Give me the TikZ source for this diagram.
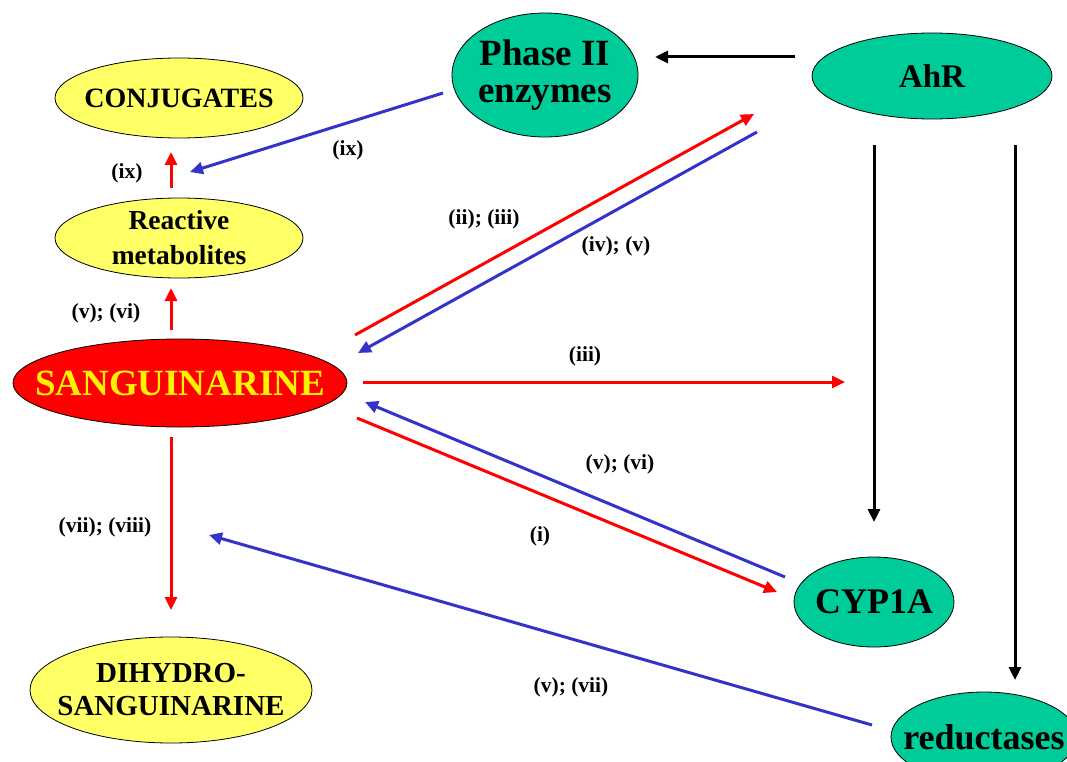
\documentclass[tikz,border=0pt]{standalone}
\usepackage{fontspec}
\setmainfont{Liberation Serif}
\usetikzlibrary{shapes.geometric,arrows.meta}
\definecolor{teal1}{RGB}{0,204,153}
\definecolor{yel1}{RGB}{255,255,102}
\definecolor{red1}{RGB}{255,0,0}
\definecolor{blue1}{RGB}{51,51,204}
\tikzset{
  ell/.style={ellipse, draw=black, line width=0.8pt, inner sep=0pt},
  yelnode/.style={ell, fill=yel1},
  tealnode/.style={ell, fill=teal1},
  txt/.style={align=center, inner sep=0pt},
  arr/.style={line width=3pt, -{Triangle[length=13pt,width=12pt]}},
  redarr/.style={arr, draw=red1, fill=red1},
  bluearr/.style={arr, draw=blue1, fill=blue1},
  blackarr/.style={arr, draw=black, fill=black},
  lbl/.style={font=\bfseries\fontsize{21.5}{24}\selectfont, inner sep=0pt}
}
\begin{document}
\begin{tikzpicture}[x=1pt,y=-1pt]
\useasboundingbox (0,0) rectangle (1067,762);
\clip (0,0) rectangle (1067,762);
\fill[white] (0,0) rectangle (1067,762);

% nodes (shape sized exactly, text placed as centred label)
\node[yelnode, minimum width=248pt, minimum height=80pt,
  label={[txt, font=\bfseries\fontsize{28}{32}\selectfont]center:CONJUGATES}] (conj) at (179,98) {};
\node[yelnode, minimum width=248pt, minimum height=80pt,
  label={[txt, font=\bfseries\fontsize{27.5}{35}\selectfont]center:Reactive\\metabolites}] (react) at (179,238) {};
\node[ell, fill=red1, minimum width=334pt, minimum height=88pt,
  label={[txt, text=yellow, font=\bfseries\fontsize{37}{40}\selectfont]center:SANGUINARINE}] (sang) at (180,383) {};
\node[yelnode, minimum width=282pt, minimum height=106pt,
  label={[txt, font=\bfseries\fontsize{29}{33}\selectfont]center:DIHYDRO-\\SANGUINARINE}] (dihy) at (171,690) {};
\node[tealnode, minimum width=186pt, minimum height=124pt,
  label={[txt, font=\bfseries\fontsize{37}{37}\selectfont]center:Phase II\\enzymes}] (phase) at (545,75) {};
\node[tealnode, minimum width=240pt, minimum height=86pt,
  label={[txt, font=\bfseries\fontsize{33}{36}\selectfont]center:AhR}] (ahr) at (932,76) {};
\node[tealnode, minimum width=160pt, minimum height=90pt,
  label={[txt, font=\bfseries\fontsize{36}{40}\selectfont]center:CYP1A}] (cyp) at (874,602) {};
\node[tealnode, minimum width=186pt, minimum height=90pt,
  label={[txt, font=\bfseries\fontsize{36}{40}\selectfont]center:reductases}] (redu) at (984,737) {};

% connector end points
\coordinate (k1s) at (795,57);   \coordinate (k1e) at (655,57);
\coordinate (k2s) at (874,145);  \coordinate (k2e) at (874,522);
\coordinate (k3s) at (1015,145); \coordinate (k3e) at (1015,680);
\coordinate (r1s) at (171,188);  \coordinate (r1e) at (171,152);
\coordinate (r2s) at (171,330);  \coordinate (r2e) at (171,288);
\coordinate (r3s) at (171,437);  \coordinate (r3e) at (171,610);
\coordinate (b1s) at (443,93);   \coordinate (b1e) at (190,172);
\coordinate (r4s) at (355,335);  \coordinate (r4e) at (754,114);
\coordinate (b2s) at (757,132);  \coordinate (b2e) at (358,353);
\coordinate (r5s) at (363,382);  \coordinate (r5e) at (845,382);
\coordinate (b3s) at (785,577);  \coordinate (b3e) at (365,402);
\coordinate (r6s) at (357,418);  \coordinate (r6e) at (777,592);
\coordinate (b4s) at (872,725);  \coordinate (b4e) at (209,535);

% connectors
\draw[blackarr] (k1s) -- (k1e);
\draw[blackarr] (k2s) -- (k2e);
\draw[blackarr] (k3s) -- (k3e);
\draw[redarr] (r1s) -- (r1e);
\draw[redarr] (r2s) -- (r2e);
\draw[redarr] (r3s) -- (r3e);
\draw[bluearr] (b1s) -- (b1e);
\draw[redarr] (r4s) -- (r4e);
\draw[bluearr] (b2s) -- (b2e);
\draw[redarr] (r5s) -- (r5e);
\draw[bluearr] (b3s) -- (b3e);
\draw[redarr] (r6s) -- (r6e);
\draw[bluearr] (b4s) -- (b4e);

% labels
\node[lbl] (l1) at (127,173) {(ix)};
\node[lbl] (l2) at (348,150) {(ix)};
\node[lbl] (l3) at (484,219) {(ii); (iii)};
\node[lbl] (l4) at (616,246) {(iv); (v)};
\node[lbl] (l5) at (106,313) {(v); (vi)};
\node[lbl] (l6) at (585,356) {(iii)};
\node[lbl] (l7) at (620,464) {(v); (vi)};
\node[lbl] (l8) at (540,536) {(i)};
\node[lbl] (l9) at (105,527) {(vii); (viii)};
\node[lbl] (l10) at (571,687) {(v); (vii)};
\end{tikzpicture}
\end{document}
